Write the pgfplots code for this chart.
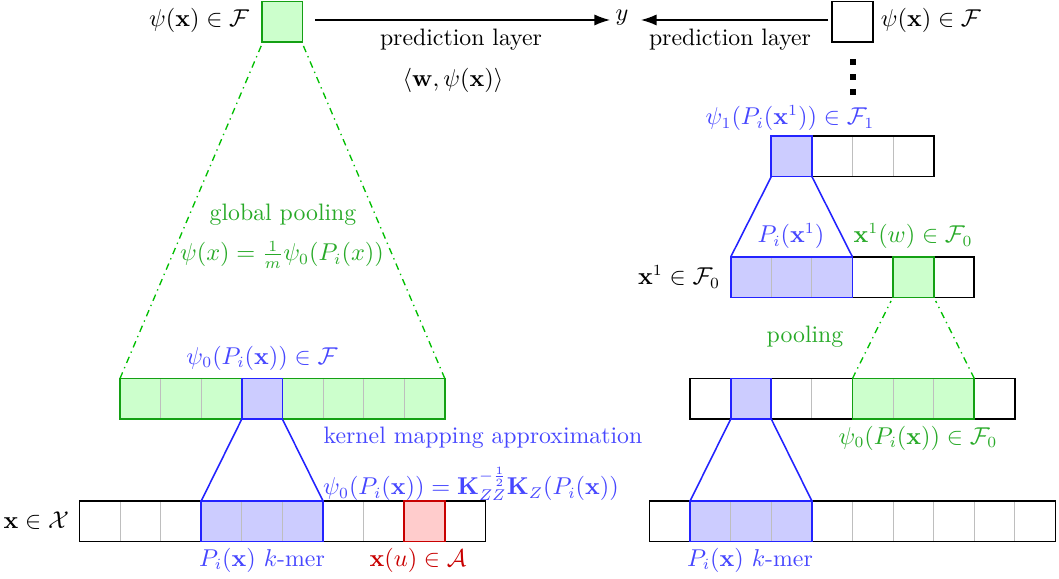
\documentclass[border=0pt]{standalone}
\usepackage{amsmath,amssymb}
\usepackage{pgfplots}
\pgfplotsset{compat=1.18}
\usetikzlibrary{arrows.meta}

\definecolor{gfill}{RGB}{204,255,204}
\definecolor{gline}{RGB}{20,160,20}
\definecolor{gdash}{RGB}{0,190,0}
\definecolor{gtext}{RGB}{40,170,40}
\definecolor{bfill}{RGB}{204,204,255}
\definecolor{bline}{RGB}{35,35,255}
\definecolor{btext}{RGB}{70,70,255}
\definecolor{rfill}{RGB}{255,204,204}
\definecolor{rline}{RGB}{200,0,0}
\definecolor{cellsep}{RGB}{190,190,190}

% one cell: x-left, y-top (pixel units, y downwards)
\newcommand{\cell}[3][white]{%
  \filldraw[fill=#1, draw=cellsep, thin] (#2,#3) rectangle ({#2+40.6},{#3+40.6});}

\begin{document}
\begin{tikzpicture}[every node/.style={font=\fontsize{10.7pt}{13pt}\selectfont}]
\begin{axis}[
    name=main,
    scale only axis,
    width=476.55pt, height=260.55pt,
    xmin=0, xmax=1059, ymin=0, ymax=579,
    y dir=reverse,
    hide axis,
    clip=false,
  ]
  % ---------------- left part ----------------
  % bottom row x in X (10 cells)
  \pgfplotsinvokeforeach{0,...,9}{\cell{79.4+#1*40.6}{501}}
  \pgfplotsinvokeforeach{3,4,5}{\cell[bfill]{79.4+#1*40.6}{501}}
  \cell[rfill]{404.2}{501}
  \draw[black, thick] (79.4,501) rectangle (485.4,541.6);
  \draw[bline, thick] (201.2,501) rectangle (323.0,541.6);
  \draw[rline, thick] (404.2,501) rectangle (444.8,541.6);

  % middle row psi_0 (8 cells)
  \pgfplotsinvokeforeach{1,...,8}{\cell[gfill]{79.4+#1*40.6}{378.5}}
  \cell[bfill]{241.8}{378.5}
  \draw[gline, thick] (120.0,378.5) rectangle (444.8,419.1);
  \draw[bline, thick] (241.8,378.5) rectangle (282.4,419.1);

  % top square
  \draw[gline, thick, fill=gfill] (262.0,1.5) rectangle (302.6,42.1);

  % k-mer trapezoid
  \draw[bline, line width=0.7pt] (201.2,501) -- (241.8,419.1);
  \draw[bline, line width=0.7pt] (323.0,501) -- (282.4,419.1);

  % global pooling lines
  \draw[gdash, semithick, dash dot] (120.0,378.5) -- (262.0,44);
  \draw[gdash, semithick, dash dot] (444.8,378.5) -- (302.6,44);

  % prediction arrows
  \draw[-{Latex[length=7pt,width=5pt]}, semithick] (315,20) -- (610,20);
  \draw[-{Latex[length=7pt,width=5pt]}, semithick] (828,20) -- (641,20);

  % ---------------- right part ----------------
  % bottom row (10 cells)
  \pgfplotsinvokeforeach{0,...,9}{\cell{649.5+#1*40.6}{501}}
  \pgfplotsinvokeforeach{1,2,3}{\cell[bfill]{649.5+#1*40.6}{501}}
  \draw[black, thick] (649.5,501) rectangle (1055.5,541.6);
  \draw[bline, thick] (690.1,501) rectangle (811.9,541.6);

  % second row (8 cells)
  \pgfplotsinvokeforeach{1,...,8}{\cell{649.5+#1*40.6}{378.5}}
  \cell[bfill]{730.7}{378.5}
  \pgfplotsinvokeforeach{5,6,7}{\cell[gfill]{649.5+#1*40.6}{378.5}}
  \draw[black, thick] (690.1,378.5) rectangle (1014.9,419.1);
  \draw[bline, thick] (730.7,378.5) rectangle (771.3,419.1);
  \draw[gline, thick] (852.5,378.5) rectangle (974.3,419.1);

  % x^1 row (6 cells)
  \pgfplotsinvokeforeach{2,...,7}{\cell{649.5+#1*40.6}{257}}
  \pgfplotsinvokeforeach{2,3,4}{\cell[bfill]{649.5+#1*40.6}{257}}
  \cell[gfill]{893.1}{257}
  \draw[black, thick] (730.7,257) rectangle (974.3,297.6);
  \draw[bline, thick] (730.7,257) rectangle (852.5,297.6);
  \draw[gline, thick] (893.1,257) rectangle (933.7,297.6);

  % psi_1 row (4 cells)
  \pgfplotsinvokeforeach{3,...,6}{\cell{649.5+#1*40.6}{136}}
  \cell[bfill]{771.3}{136}
  \draw[black, thick] (771.3,136) rectangle (933.7,176.6);
  \draw[bline, thick] (771.3,136) rectangle (811.9,176.6);

  % top square
  \draw[black, thick] (832.2,1.5) rectangle (872.8,42.1);

  % dots
  \addplot[only marks, mark=square*, mark size=1.05pt, black]
    coordinates {(853,62) (853,77) (853,92)};

  % trapezoids
  \draw[bline, line width=0.7pt] (690.1,501) -- (730.7,419.1);
  \draw[bline, line width=0.7pt] (811.9,501) -- (771.3,419.1);
  \draw[bline, line width=0.7pt] (730.7,257) -- (771.3,176.6);
  \draw[bline, line width=0.7pt] (852.5,257) -- (811.9,176.6);

  % pooling lines
  \draw[gdash, semithick, dash dot] (852.5,378.5) -- (891,301);
  \draw[gdash, semithick, dash dot] (974.3,378.5) -- (935.7,301);

  % ---------------- labels ----------------
  \node[anchor=east] at (257,20) {$\psi(\mathbf{x}) \in \mathcal{F}$};
  \node[anchor=west] at (873,20) {$\psi(\mathbf{x}) \in \mathcal{F}$};
  \node at (461,40) {prediction layer};
  \node at (453,80) {$\langle \mathbf{w}, \psi(\mathbf{x}) \rangle$};
  \node at (730,40) {prediction layer};
  \node at (622,18) {$y$};

  \node[text=btext] at (790,118) {$\psi_1(P_i(\mathbf{x}^1)) \in \mathcal{F}_1$};
  \node[text=btext] at (791,236) {$P_i(\mathbf{x}^1)$};
  \node[text=gtext] at (913,236) {$\mathbf{x}^1(w) \in \mathcal{F}_0$};
  \node[anchor=east] at (728,277) {$\mathbf{x}^1 \in \mathcal{F}_0$};
  \node[text=gtext] at (805,337) {pooling};
  \node[text=gtext] at (918,438) {$\psi_0(P_i(\mathbf{x})) \in \mathcal{F}_0$};
  \node[text=btext] at (750,560) {$P_i(\mathbf{x})$ $k$-mer};

  \node[anchor=east] at (77,521) {$\mathbf{x} \in \mathcal{X}$};
  \node[text=btext] at (262,560) {$P_i(\mathbf{x})$ $k$-mer};
  \node[text=rline] at (418,560) {$\mathbf{x}(u) \in \mathcal{A}$};
  \node[text=btext] at (262,358) {$\psi_0(P_i(\mathbf{x})) \in \mathcal{F}$};
  \node[text=btext] at (483,438) {kernel mapping approximation};
  \node[text=btext] at (471,484)
    {$\psi_0(P_i(\mathbf{x})) = \mathbf{K}_{ZZ}^{-\frac{1}{2}}\mathbf{K}_Z(P_i(\mathbf{x}))$};
  \node[text=gtext] at (283,215) {global pooling};
  \node[text=gtext] at (282,255) {$\psi(x) = \frac{1}{m}\psi_0(P_i(x))$};
\end{axis}
\pgfresetboundingbox
\path[use as bounding box] (main.south west) rectangle (main.north east);
\end{tikzpicture}
\end{document}
